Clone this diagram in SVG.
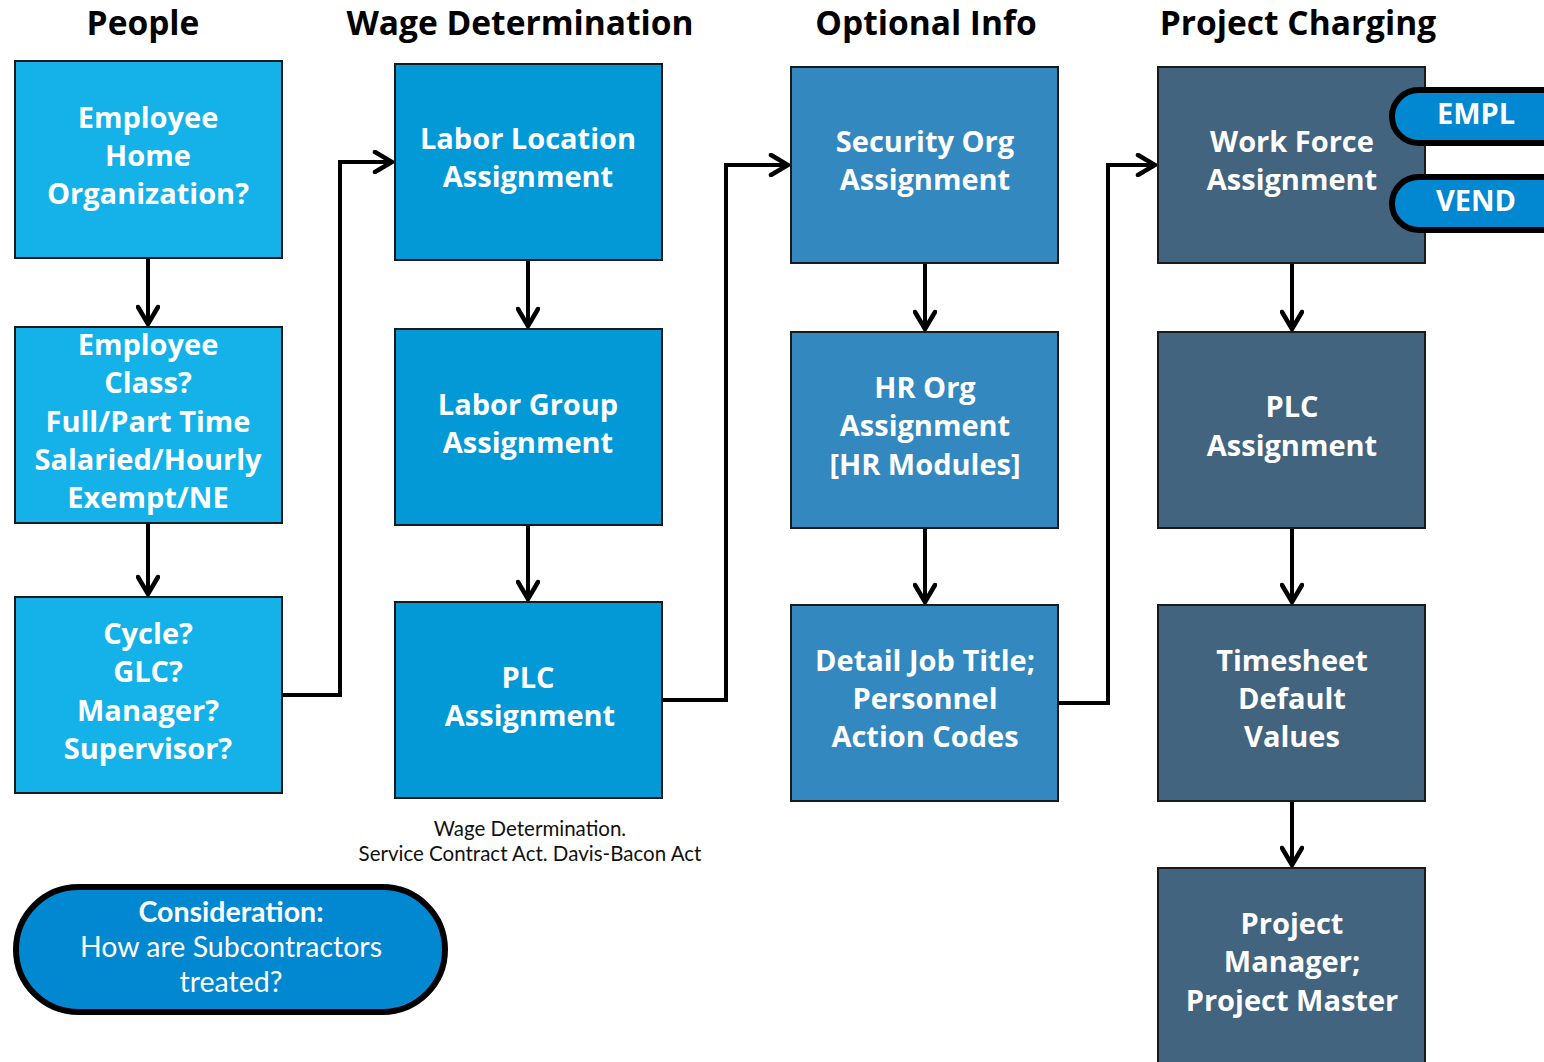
<svg xmlns="http://www.w3.org/2000/svg" width="1544" height="1062" viewBox="0 0 1544 1062">
<defs>
<style>
.hdr{font-family:"Open Sans","Lato",sans-serif;font-weight:700;font-size:33.5px;fill:#000;text-anchor:middle}
.bt{font-family:"Open Sans","Lato",sans-serif;font-weight:700;font-size:29px;fill:#fff;text-anchor:middle}
.c1{fill:#14B2E8;stroke:#1a1a1a;stroke-width:2}
.c2{fill:#0399D6;stroke:#1a1a1a;stroke-width:2}
.c3{fill:#3388BF;stroke:#1a1a1a;stroke-width:2}
.c4{fill:#42647F;stroke:#1a1a1a;stroke-width:2}
.pill{fill:#0288D1;stroke:#000;stroke-width:6}
.conn{fill:none;stroke:#000;stroke-width:4}
.note{font-family:"Lato","Open Sans",sans-serif;font-weight:400;font-size:20.5px;fill:#111;text-anchor:middle}
.cons{font-family:"Lato","Open Sans",sans-serif;font-size:28.5px;fill:#fff;text-anchor:middle}
</style>
<marker id="ah2" viewBox="0 0 24 24" refX="22" refY="12" markerWidth="24" markerHeight="24" markerUnits="userSpaceOnUse" orient="auto">
<path d="M4,2 L21,12 L4,22" fill="none" stroke="#000" stroke-width="4.5" stroke-linecap="round"/>
</marker>
</defs>
<rect width="1544" height="1062" fill="#fff"/>

<g id="headers">
<text class="hdr" x="143" y="35">People</text>
<text class="hdr" x="520" y="35">Wage Determination</text>
<text class="hdr" x="926" y="35">Optional Info</text>
<text class="hdr" x="1298" y="35">Project Charging</text>
</g>

<g id="connectors">
<path class="conn" d="M148,258 V325" marker-end="url(#ah2)"/>
<path class="conn" d="M148,523 V595" marker-end="url(#ah2)"/>
<path class="conn" d="M528,260 V327" marker-end="url(#ah2)"/>
<path class="conn" d="M528,525 V600" marker-end="url(#ah2)"/>
<path class="conn" d="M925,263 V330" marker-end="url(#ah2)"/>
<path class="conn" d="M925,528 V603" marker-end="url(#ah2)"/>
<path class="conn" d="M1292,263 V330" marker-end="url(#ah2)"/>
<path class="conn" d="M1292,528 V603" marker-end="url(#ah2)"/>
<path class="conn" d="M1292,801 V866" marker-end="url(#ah2)"/>
<path class="conn" d="M282,695 H340 V162 H393" marker-end="url(#ah2)"/>
<path class="conn" d="M662,700 H726 V165 H789" marker-end="url(#ah2)"/>
<path class="conn" d="M1058,703 H1108 V165 H1156" marker-end="url(#ah2)"/>
</g>

<g id="n-home-org">
<rect class="c1" x="15" y="61" width="267" height="197"/>
<text class="bt" x="148" y="128">Employee</text>
<text class="bt" x="148" y="166">Home</text>
<text class="bt" x="148" y="204">Organization?</text>
</g>
<g id="n-emp-class">
<rect class="c1" x="15" y="327" width="267" height="196"/>
<text class="bt" x="148" y="355">Employee</text>
<text class="bt" x="148" y="393">Class?</text>
<text class="bt" x="148" y="432">Full/Part Time</text>
<text class="bt" x="148" y="470">Salaried/Hourly</text>
<text class="bt" x="148" y="508">Exempt/NE</text>
</g>
<g id="n-cycle">
<rect class="c1" x="15" y="597" width="267" height="196"/>
<text class="bt" x="148" y="644">Cycle?</text>
<text class="bt" x="148" y="682">GLC?</text>
<text class="bt" x="148" y="721">Manager?</text>
<text class="bt" x="148" y="759">Supervisor?</text>
</g>

<g id="n-labor-loc">
<rect class="c2" x="395" y="64" width="267" height="196"/>
<text class="bt" x="528" y="149">Labor Location</text>
<text class="bt" x="528" y="187">Assignment</text>
</g>
<g id="n-labor-group">
<rect class="c2" x="395" y="329" width="267" height="196"/>
<text class="bt" x="528" y="415">Labor Group</text>
<text class="bt" x="528" y="453">Assignment</text>
</g>
<g id="n-plc-wage">
<rect class="c2" x="395" y="602" width="267" height="196"/>
<text class="bt" x="528" y="688">PLC</text>
<text class="bt" x="530" y="726">Assignment</text>
</g>
<g id="n-wage-note">
<text class="note" x="530" y="836">Wage Determination.</text>
<text class="note" x="530" y="861">Service Contract Act. Davis-Bacon Act</text>
</g>

<g id="n-security-org">
<rect class="c3" x="791" y="67" width="267" height="196"/>
<text class="bt" x="925" y="152">Security Org</text>
<text class="bt" x="925" y="190">Assignment</text>
</g>
<g id="n-hr-org">
<rect class="c3" x="791" y="332" width="267" height="196"/>
<text class="bt" x="925" y="398">HR Org</text>
<text class="bt" x="925" y="436">Assignment</text>
<text class="bt" x="925" y="475">[HR Modules]</text>
</g>
<g id="n-detail-job">
<rect class="c3" x="791" y="605" width="267" height="196"/>
<text class="bt" x="925" y="671">Detail Job Title;</text>
<text class="bt" x="925" y="709">Personnel</text>
<text class="bt" x="925" y="747">Action Codes</text>
</g>

<g id="n-work-force">
<rect class="c4" x="1158" y="67" width="267" height="196"/>
<text class="bt" x="1292" y="152">Work Force</text>
<text class="bt" x="1292" y="190">Assignment</text>
</g>
<g id="n-empl">
<rect class="pill" x="1392" y="90" width="180" height="53" rx="26.5"/>
<text class="bt" x="1476" y="124">EMPL</text>
</g>
<g id="n-vend">
<rect class="pill" x="1392" y="177" width="180" height="53" rx="26.5"/>
<text class="bt" x="1476" y="211">VEND</text>
</g>
<g id="n-plc-proj">
<rect class="c4" x="1158" y="332" width="267" height="196"/>
<text class="bt" x="1292" y="417">PLC</text>
<text class="bt" x="1292" y="456">Assignment</text>
</g>
<g id="n-timesheet">
<rect class="c4" x="1158" y="605" width="267" height="196"/>
<text class="bt" x="1292" y="671">Timesheet</text>
<text class="bt" x="1292" y="709">Default</text>
<text class="bt" x="1292" y="747">Values</text>
</g>
<g id="n-project-mgr">
<rect class="c4" x="1158" y="868" width="267" height="210"/>
<text class="bt" x="1292" y="934">Project</text>
<text class="bt" x="1292" y="972">Manager;</text>
<text class="bt" x="1292" y="1011">Project Master</text>
</g>

<g id="n-consideration">
<rect class="pill" x="16" y="887" width="429" height="125" rx="62.5"/>
<text class="cons" x="231" y="922" font-weight="700">Consideration:</text>
<text class="cons" x="231" y="957">How are Subcontractors</text>
<text class="cons" x="231" y="992">treated?</text>
</g>
</svg>
